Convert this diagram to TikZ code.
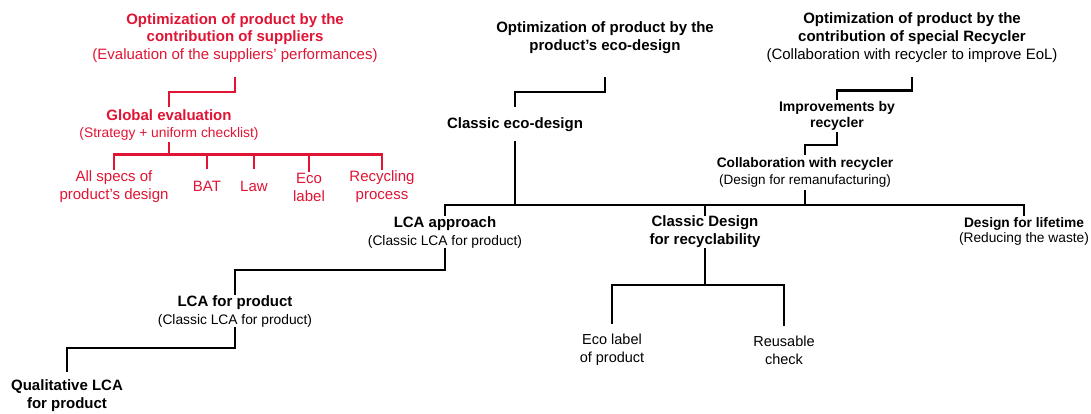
\documentclass[tikz,border=0pt]{standalone}
\usepackage{fontspec}
\setmainfont{Liberation Sans}
\usepackage{xcolor}
\usepackage{tikz}
\usetikzlibrary{positioning}

\definecolor{supred}{RGB}{224,20,52}
\newcommand{\subl}[1]{{\fontsize{13.8}{17}\selectfont\mdseries #1}}

\begin{document}
\begin{tikzpicture}[
  x=1pt, y=-1pt,
  ttl/.style={align=center, inner sep=0pt, font=\fontsize{15}{17.5}\selectfont\bfseries},
  hd/.style={align=center, inner xsep=0pt, font=\fontsize{15}{18}\selectfont\bfseries},
  lf/.style={align=center, inner xsep=0pt, font=\fontsize{15}{18}\selectfont},
  ln/.style={line width=2.3pt, line cap=rect},
  redln/.style={ln, draw=supred},
]
\useasboundingbox (0,0) rectangle (1091,414);

% suppliers (red)
\node[ttl, text=supred] (sup) at (235,37.7) {Optimization of product by the\\contribution of suppliers\\{\mdseries (Evaluation of the suppliers' performances)}};
\node[hd, text=supred, font=\fontsize{15}{17}\selectfont\bfseries, inner ysep=2.8pt] (geval) at (169,124.5) {Global evaluation\\\subl{(Strategy + uniform checklist)}};
\node[lf, text=supred, inner ysep=2pt] (specs) at (114,187) {All specs of\\product's design};
\node[lf, text=supred, inner ysep=12.6pt] (bat) at (207,186) {BAT};
\node[lf, text=supred, inner ysep=12.6pt] (law) at (254,186) {Law};
\node[lf, text=supred, inner ysep=2pt] (ecol) at (309,187) {Eco\\label};
\node[lf, text=supred, inner ysep=2pt] (recp) at (382,187) {Recycling\\process};

\draw[redln, shorten <=15.7pt] (sup.south) -- ++(0,29.7) -| (geval.north);
\draw[redln] (geval.south) -- ++(0,11.5) coordinate (rbar);
\draw[redln] (specs.north |- rbar) -- (recp.north |- rbar);
\foreach \n in {specs,bat,law,ecol,recp}
  \draw[redln] (\n.north |- rbar) -- (\n.north);

% eco-design (black)
\node[ttl, font=\fontsize{15}{18.5}\selectfont\bfseries] (eco) at (605,37.7) {Optimization of product by the\\product's eco-design};
\node[ttl, inner ysep=11pt] (ced) at (515,124.4) {Classic eco-design};
\node[hd, inner ysep=1pt] (lcaa) at (445,232) {LCA approach\\\subl{(Classic LCA for product)}};
\node[hd, inner ysep=1pt] (cdr) at (705,232) {Classic Design\\for recyclability};
\node[hd, font=\fontsize{13.75}{15}\selectfont\bfseries, inner ysep=2pt] (dfl) at (1024,231) {Design for lifetime\\{\mdseries (Reducing the waste)}};
\node[hd, inner ysep=1pt] (lcap) at (235,311) {LCA for product\\\subl{(Classic LCA for product)}};
\node[hd, inner ysep=8.9pt] (qual) at (67,396) {Qualitative LCA\\for product};
\node[lf, font=\fontsize{14.5}{17.7}\selectfont, inner ysep=11pt] (elp) at (612,350) {Eco label\\of product};
\node[lf, font=\fontsize{14.5}{17.7}\selectfont, inner ysep=11pt] (reus) at (784,350) {Reusable\\check};

\draw[ln, shorten <=24pt] (eco.south) -- ++(0,38) -| (ced.north);
\draw[ln] (ced.south) -- ++(0,62.5) coordinate (mbar);
\draw[ln] (lcaa.north |- mbar) -- (dfl.north |- mbar);
\foreach \n in {lcaa,cdr,dfl}
  \draw[ln] (\n.north |- mbar) -- (\n.north);
\draw[ln] (lcaa.south) -- ++(0,21) -| (lcap.north);
\draw[ln] (lcap.south) -- ++(0,20) -| (qual.north);
\draw[ln] (cdr.south) -- ++(0,36) coordinate (cbar);
\draw[ln] (elp.north |- cbar) -- (reus.north |- cbar);
\foreach \n in {elp,reus}
  \draw[ln] (\n.north |- cbar) -- (\n.north);

% recycler (black)
\node[ttl, font=\fontsize{15}{18.3}\selectfont\bfseries] (rec) at (912,37.7) {Optimization of product by the\\contribution of special Recycler\\{\mdseries (Collaboration with recycler to improve EoL)}};
\node[hd, font=\fontsize{14}{16}\selectfont\bfseries, inner ysep=2.5pt] (imp) at (837,116) {Improvements by\\recycler};
\node[hd, font=\fontsize{13.75}{17}\selectfont\bfseries, inner ysep=4pt] (collab) at (805,172.5) {Collaboration with recycler\\{\fontsize{13.5}{17}\selectfont\mdseries (Design for remanufacturing)}};

\draw[ln, shorten <=15.2pt] (rec.south) -- ++(0,27.2) -| (imp.north);
\draw[ln] (imp.south) -- ++(0,12) -| (collab.north);
\draw[ln] (collab.south) -- (collab.south |- mbar);
\end{tikzpicture}
\end{document}
